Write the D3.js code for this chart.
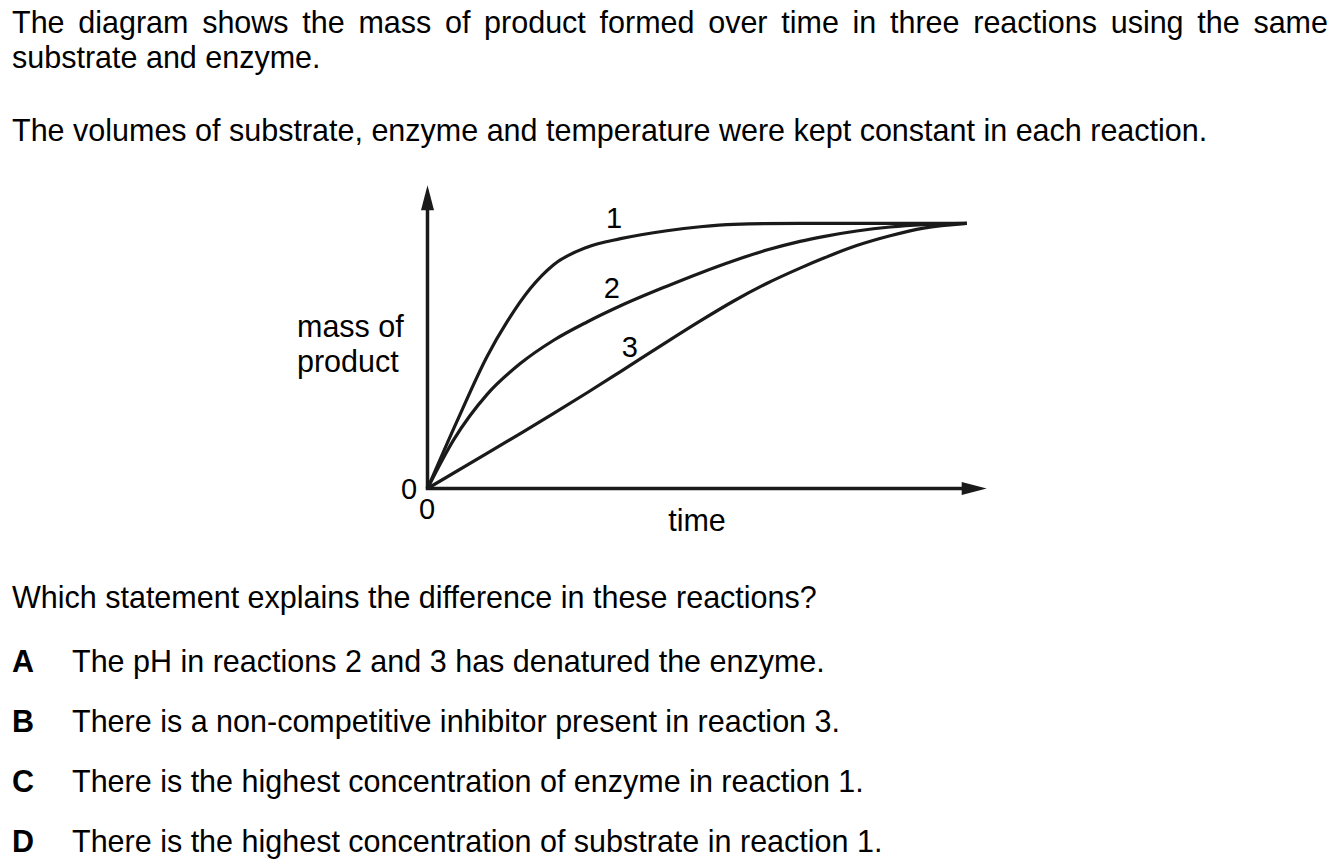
<!DOCTYPE html>
<html>
<head>
<meta charset="utf-8">
<script src="https://cdn.jsdelivr.net/npm/d3@7"></script>
<style>
  html, body { margin: 0; padding: 0; background: #fff; }
  svg { display: block; }
  text { font-family: "Liberation Sans", Arial, sans-serif; fill: #000; }
</style>
</head>
<body>
<svg id="chart" width="1336" height="867"></svg>
<script>
// ---------- data ----------
const introLine1 = "The diagram shows the mass of product formed over time in three reactions using the same";
const introLine2 = "substrate and enzyme.";
const introLine3 = "The volumes of substrate, enzyme and temperature were kept constant in each reaction.";
const question = "Which statement explains the difference in these reactions?";
const optionLetters = ["A", "B", "C", "D"];
const optionTexts = [
  "The pH in reactions 2 and 3 has denatured the enzyme.",
  "There is a non-competitive inhibitor present in reaction 3.",
  "There is the highest concentration of enzyme in reaction 1.",
  "There is the highest concentration of substrate in reaction 1."
];
const yAxisLabel = ["mass of", "product"];
const xAxisLabel = "time";
const seriesNames = ["1", "2", "3"];

// time (0-100) and mass of product (0-100)
const reaction1Time = [0, 5.5, 11.1, 14.8, 19.1, 23.4, 29.6, 35.8, 44.4, 50.6, 56.8, 69.1, 100];
const reaction1Mass = [0, 25.5, 50.0, 63.0, 75.5, 84.4, 91.0, 94.2, 97.2, 98.7, 99.6, 100, 100];
const reaction2Time = [0, 4.9, 11.1, 17.2, 23.4, 29.6, 35.8, 44.4, 50.6, 56.8, 62.9, 69.1, 73.4, 79.6, 85.8, 92.0, 100];
const reaction2Mass = [0, 18.5, 35.6, 47.1, 55.9, 62.8, 68.9, 76.3, 81.3, 85.9, 89.9, 93.2, 95.0, 97.1, 98.6, 99.5, 100];
const reaction3Time = [0, 11.1, 17.2, 23.4, 29.6, 35.8, 44.4, 50.6, 56.8, 62.9, 69.1, 73.4, 79.6, 85.8, 92.0, 100];
const reaction3Mass = [0, 13.3, 20.7, 28.3, 36.1, 44.1, 55.3, 63.2, 70.7, 77.3, 83.1, 86.8, 91.6, 95.3, 98.2, 100];
const labelPositions = [[34.6, 98.2], [34.2, 71.8], [37.5, 49.5]]; // [time, mass] of label baseline-centre

// ---------- layout ----------
const svg = d3.select("#chart");
const FONT = 30.5;
const LEFT = 12;

const x = d3.scaleLinear().domain([0, 100]).range([427.5, 966.7]);
const y = d3.scaleLinear().domain([0, 100]).range([488.5, 223.3]);

// intro text
function justified(line, baseline, x0, x1) {
  const words = line.split(" ");
  const g = svg.append("g");
  const nodes = words.map(w => g.append("text").attr("y", baseline).attr("font-size", FONT).text(w));
  const widths = nodes.map(n => n.node().getComputedTextLength());
  const total = d3.sum(widths);
  const gap = (x1 - x0 - total) / (words.length - 1);
  let cx = x0;
  nodes.forEach((n, i) => { n.attr("x", cx); cx += widths[i] + gap; });
}
justified(introLine1, 33, LEFT, 1328);
svg.append("text").attr("x", LEFT).attr("y", 68).attr("font-size", FONT).text(introLine2);
svg.append("text").attr("x", LEFT).attr("y", 141).attr("font-size", FONT).text(introLine3);

// axes
const axisG = svg.append("g").attr("stroke", "#1a1a1a").attr("fill", "#1a1a1a");
const x0 = x(0), y0 = y(0);
const yTop = y(100) - 38, xEnd = x(100) + 20;
axisG.append("line").attr("x1", x0).attr("y1", y0).attr("x2", x0).attr("y2", yTop + 20).attr("stroke-width", 3.5);
axisG.append("path").attr("stroke", "none")
  .attr("d", `M${x0},${yTop} L${x0 - 6.5},${yTop + 25} L${x0 + 6.5},${yTop + 25} Z`);
axisG.append("line").attr("x1", x0 - 1.75).attr("y1", y0).attr("x2", xEnd - 20).attr("y2", y0).attr("stroke-width", 3.5);
axisG.append("path").attr("stroke", "none")
  .attr("d", `M${xEnd},${y0} L${xEnd - 25},${y0 - 6.5} L${xEnd - 25},${y0 + 6.5} Z`);

// curves
const line = d3.line().x(d => x(d[0])).y(d => y(d[1])).curve(d3.curveMonotoneX);
const series = [
  d3.zip(reaction1Time, reaction1Mass),
  d3.zip(reaction2Time, reaction2Mass),
  d3.zip(reaction3Time, reaction3Mass)
];
svg.append("g").selectAll("path").data(series).join("path")
  .attr("d", line)
  .attr("fill", "none")
  .attr("stroke", "#1a1a1a")
  .attr("stroke-width", 3.2)
  .attr("stroke-linejoin", "round");

// series labels
svg.append("g").selectAll("text").data(seriesNames).join("text")
  .attr("x", (d, i) => x(labelPositions[i][0]))
  .attr("y", (d, i) => y(labelPositions[i][1]))
  .attr("text-anchor", "middle")
  .attr("font-size", 29)
  .text(d => d);

// axis labels
svg.append("text").attr("x", 297).attr("y", 337).attr("font-size", FONT).text(yAxisLabel[0]);
svg.append("text").attr("x", 297).attr("y", 372).attr("font-size", FONT).text(yAxisLabel[1]);
svg.append("text").attr("x", 697).attr("y", 531).attr("text-anchor", "middle").attr("font-size", FONT).text(xAxisLabel);
svg.append("text").attr("x", 409).attr("y", 499).attr("text-anchor", "middle").attr("font-size", 29).text("0");
svg.append("text").attr("x", 427).attr("y", 519).attr("text-anchor", "middle").attr("font-size", 29).text("0");

// question and options
svg.append("text").attr("x", LEFT).attr("y", 608).attr("font-size", FONT).text(question);
const optY = [672, 732, 792, 852];
optionLetters.forEach((l, i) => {
  svg.append("text").attr("x", LEFT).attr("y", optY[i]).attr("font-size", FONT).attr("font-weight", "bold").text(l);
  svg.append("text").attr("x", 72).attr("y", optY[i]).attr("font-size", FONT).text(optionTexts[i]);
});
</script>
</body>
</html>
